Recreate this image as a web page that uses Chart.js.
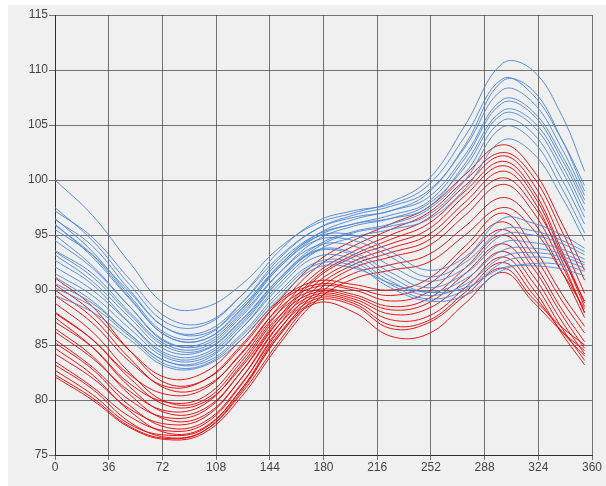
<!DOCTYPE html>
<html>
<head>
<meta charset="utf-8">
<script src="https://cdn.jsdelivr.net/npm/chart.js@4"></script>
<style>
  body { margin: 0; background: #ffffff; }
  #wrap { position: absolute; left: 8px; top: 5px; width: 598px; height: 481px; background: #f0f0f0; }
</style>
</head>
<body>
<div id="wrap"><canvas id="waveChart" width="598" height="481"></canvas></div>
<script>
// sample positions along the x axis (degrees)
const xValues = [0, 25, 50, 75, 100, 125, 150, 175, 200, 225, 250, 275, 300, 320, 340, 355];
const xTicks = [0, 36, 72, 108, 144, 180, 216, 252, 288, 324, 360];
const yTicks = [75, 80, 85, 90, 95, 100, 105, 110, 115];

// blue curves that climb to the big peak near 300
const blueUpper = [
    [100, 96.8, 92.5, 88.6, 88.4, 90.5, 93.8, 96, 97, 98, 100, 105, 110.6, 110, 105.8, 100.8],
    [97.5, 94.5, 90.5, 87, 86.8, 89.5, 93.5, 96.2, 97.2, 97.8, 99.5, 104, 109.2, 107.8, 103.6, 99.5],
    [97.2, 94.8, 91, 87.5, 87, 89.5, 93, 95.5, 96.6, 97.2, 98.8, 103.2, 109, 108.2, 103.6, 99],
    [96.5, 93.5, 89.5, 86, 85.8, 88.8, 92.8, 95.5, 96.8, 97.6, 99, 103, 108.2, 107.1, 102.8, 98.6],
    [96, 93, 89.2, 85.8, 85.5, 88.2, 92.2, 95, 96.4, 97.2, 98.4, 102.3, 107.3, 106.3, 102.2, 98.2],
    [95.5, 93.2, 89.8, 86.5, 86.2, 88.8, 92.5, 95, 96, 96.8, 98, 102, 107, 106, 101.8, 97.8],
    [95, 92.2, 88.5, 85.2, 85.2, 88, 92, 94.8, 96, 96.5, 97.5, 101.5, 106.3, 105.4, 101.3, 97.2],
    [93.6, 91.5, 88, 85, 84.8, 87.6, 91.5, 94.5, 95.8, 96.5, 97.8, 101.2, 106, 105, 100.8, 96.6],
    [93.2, 90.8, 87.5, 84.5, 84.5, 87.2, 91, 94, 95.3, 96, 97.3, 100.6, 105.4, 104.3, 100, 96],
    [92.7, 90.5, 87, 84, 84, 86.8, 90.8, 93.8, 95.2, 95.8, 96.8, 100, 104.8, 103.6, 99.2, 95.2],
    [91.2, 89, 86, 83.5, 83.6, 86.5, 90.5, 93.5, 94.8, 95.5, 96.4, 99.2, 103.6, 102.5, 98.4, 94.5]
];

// blue curves that sag after 200 and end low
const blueLower = [
    [96.4, 94, 90, 86.5, 86, 88.5, 92.2, 94.8, 95, 93.5, 91.8, 93, 96.5, 96.1, 95, 93.8],
    [95.9, 93.2, 89.3, 85.8, 85.5, 88.3, 92, 94.5, 94.5, 93, 91.2, 92.5, 95.5, 95.4, 94.5, 93.5],
    [94.5, 92, 88.5, 85.3, 85, 87.8, 91.5, 94, 94, 92.2, 90.8, 92, 95, 95, 94.2, 93.2],
    [93.5, 91.2, 87.8, 84.8, 84.6, 87.3, 91, 93.6, 93.4, 91.6, 90.2, 91.5, 94.3, 94.3, 93.7, 92.8],
    [92.1, 90, 87, 84.2, 84.2, 87, 90.8, 93.5, 93.2, 91.2, 89.8, 91, 93.6, 93.8, 93.3, 92.5],
    [91.5, 89.5, 86.5, 83.8, 83.8, 86.5, 90.2, 93, 92.8, 90.8, 89.5, 90.5, 93, 93.4, 93, 92.3],
    [90.6, 88.8, 86, 83.5, 83.4, 86, 89.8, 92.5, 92.5, 90.5, 89.2, 90, 92.5, 93, 92.7, 92],
    [90.2, 88.5, 85.8, 83.2, 83.2, 85.8, 89.5, 92.3, 92.2, 90.2, 89, 89.5, 91.8, 92.4, 92.3, 91.7],
    [89.5, 88, 85.5, 83, 83.1, 85.5, 89.2, 92, 92, 90.6, 89.8, 90.2, 92, 92.2, 91.9, 91.3]
];

// red curves with the higher second peak
const redUpper = [
    [91.1, 88.5, 84.5, 81.5, 81.8, 84.8, 89, 92.5, 94.5, 96, 97.5, 100.5, 103.2, 101, 96, 91.8],
    [90, 87.5, 83.8, 81, 81.2, 84.2, 88.5, 92, 94, 95.5, 97, 100, 102.5, 100.4, 95.3, 90.9],
    [88.8, 86.2, 82.5, 79.8, 80, 83.5, 88, 91.5, 93.5, 95, 96.5, 99.5, 102.2, 99.8, 94.3, 89.7],
    [88, 85.5, 82, 79.5, 79.8, 83, 87.5, 91.2, 93.2, 94.6, 96, 99, 101.7, 99.2, 93.5, 88.8],
    [87.5, 84.8, 81.2, 78.8, 79.2, 82.6, 87.2, 91, 93, 94.2, 95.5, 98.6, 101.3, 98.8, 93.2, 88.5],
    [86.5, 84, 80.5, 78.2, 78.6, 82, 86.8, 90.6, 92.6, 93.8, 95, 98, 100.8, 98.3, 92.6, 87.9],
    [85.2, 82.8, 79.5, 77.5, 78, 81.5, 86.3, 90.2, 92.3, 93.4, 94.5, 97.5, 100.2, 97.8, 93, 89],
    [84.7, 82.3, 79, 77, 77.5, 81, 85.8, 89.8, 92, 93, 94, 96.8, 99.6, 97.2, 92.2, 88],
    [83.2, 81, 78, 76.6, 77.2, 80.6, 85.3, 89.4, 91.5, 92.3, 93.2, 95.8, 98.4, 96.3, 91.6, 87.5],
    [82.1, 80, 77.5, 76.4, 77, 80.3, 85, 89, 91, 91.8, 92.5, 95, 97.5, 95.6, 91.6, 88.3]
];

// red curves that flatten near 90 and dip before the second peak
const redLower = [
    [90.5, 88, 84.5, 82, 82.5, 85.5, 89, 90.8, 90.5, 90, 91, 94, 97, 94, 89.6, 86.7],
    [89.5, 87, 83.5, 81.2, 81.8, 85, 88.8, 90.5, 90.2, 89.5, 90.5, 93.5, 96.2, 93.3, 89, 86.1],
    [87.9, 85.5, 82.3, 80.5, 81, 84.3, 88.3, 90.3, 90, 89, 89.8, 92.8, 95.5, 92.6, 88.2, 85.3],
    [87.1, 84.8, 81.5, 79.8, 80.3, 83.8, 88, 90, 89.6, 88.5, 89.2, 92, 95, 92.1, 87.7, 84.7],
    [86.2, 83.8, 80.8, 79, 79.6, 83.2, 87.6, 89.8, 89.4, 88.2, 88.8, 91.5, 94.2, 91.4, 87.1, 84.2],
    [85.5, 83, 80, 78.4, 79, 82.6, 87.2, 89.6, 89.2, 87.8, 88.3, 90.8, 93.5, 90.8, 86.5, 83.6],
    [84.2, 82, 79.2, 77.8, 78.4, 82, 86.8, 89.4, 89, 87.3, 87.6, 90.2, 93, 90.2, 86, 83.2],
    [83.5, 81.2, 78.5, 77.2, 77.8, 81.4, 86.4, 89.2, 88.8, 86.8, 87.2, 89.8, 92.5, 89.7, 86.2, 84],
    [82.7, 80.5, 77.8, 76.8, 77.4, 81, 86, 89, 88.6, 86.5, 87, 89.5, 92, 89.3, 86.6, 85],
    [82.3, 80.2, 77.6, 76.5, 77.2, 80.8, 85.8, 88.8, 88, 85.8, 86, 88.8, 91.6, 89, 86.2, 84.5]
];

const BLUE = 'rgba(74, 134, 214, 0.9)';
const RED = 'rgba(228, 0, 0, 0.9)';

function makeSet(values, color) {
    return {
        data: values.map((v, i) => ({ x: xValues[i], y: v })),
        borderColor: color,
        borderWidth: 1,
        pointRadius: 0,
        tension: 0.4,
        fill: false
    };
}

const datasets = [];
blueUpper.forEach(s => datasets.push(makeSet(s, BLUE)));
blueLower.forEach(s => datasets.push(makeSet(s, BLUE)));
redUpper.forEach(s => datasets.push(makeSet(s, RED)));
redLower.forEach(s => datasets.push(makeSet(s, RED)));

const gridColor = 'rgba(60, 60, 60, 0.7)';
const tickFont = { family: 'Liberation Sans, Arial, sans-serif', size: 12 };

const ctx = document.getElementById('waveChart').getContext('2d');
new Chart(ctx, {
    type: 'line',
    data: { datasets: datasets },
    options: {
        responsive: false,
        animation: false,
        layout: { padding: { left: 0, right: 14, top: 10, bottom: 0 } },
        plugins: { legend: { display: false }, tooltip: { enabled: false } },
        scales: {
            x: {
                type: 'linear',
                min: 0,
                max: 360,
                afterBuildTicks: axis => { axis.ticks = xTicks.map(v => ({ value: v })); },
                afterFit: axis => { axis.height = 31; },
                grid: { color: gridColor, tickLength: 5, lineWidth: 1 },
                border: { color: 'rgba(40,40,40,0.9)' },
                ticks: { color: '#444', font: tickFont, padding: 0, maxRotation: 0 }
            },
            y: {
                min: 75,
                max: 115,
                afterBuildTicks: axis => { axis.ticks = yTicks.map(v => ({ value: v })); },
                afterFit: axis => { axis.width = 47; },
                grid: { color: gridColor, tickLength: 6, lineWidth: 1 },
                border: { color: 'rgba(40,40,40,0.9)' },
                ticks: { color: '#444', font: tickFont, padding: 1 }
            }
        }
    }
});
</script>
</body>
</html>
